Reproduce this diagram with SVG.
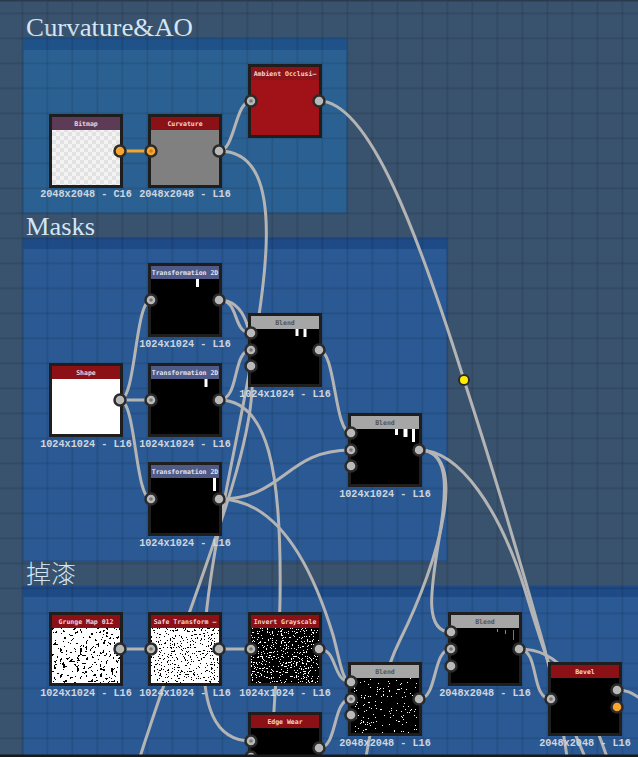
<svg xmlns="http://www.w3.org/2000/svg" width="638" height="757" viewBox="0 0 638 757">
<style>
.nb{fill:#1e1e1e}
.w{fill:none;stroke:#b4b4b4;stroke-width:3;stroke-linecap:round}
.wo{fill:none;stroke:#f4a62a;stroke-width:3}
.p{fill:#b9b9b9;stroke:#2b2b2b;stroke-width:2.5}
.po{fill:#f7a632;stroke:#2b2b2b;stroke-width:2.5}
.dot{fill:#777}
.doto{fill:#c9801a}
.lbl{font-family:"Liberation Mono",monospace;font-size:10.2px;font-weight:bold;fill:#cfd6de;text-anchor:middle}
.nt{font-family:"DejaVu Sans Mono",monospace;font-size:6.5px;font-weight:bold;text-anchor:middle;fill:#f0d6d6}
.ntb{fill:#555}
.ntt{fill:#e4e4f2}
.ft{font-family:"Liberation Serif",serif;font-size:26px;fill:#d2e6f7}
.rh{fill:#8b1116}
.bh{fill:#a6a6a6}
.th{fill:#4f5a87}
.blk{fill:#000}
.bar{fill:#fff}
</style>
<defs>
<pattern id="grid" patternUnits="userSpaceOnUse" x="21.5" y="12.5" width="25" height="25">
<rect x="0" y="0" width="25" height="1.5" fill="#000" fill-opacity="0.12"/>
<rect x="0" y="0" width="1.5" height="25" fill="#000" fill-opacity="0.12"/>
</pattern>
<pattern id="checker" patternUnits="userSpaceOnUse" x="0" y="0" width="8" height="8">
<rect width="8" height="8" fill="#f3f3f3"/>
<rect width="4" height="4" fill="#e2e2e2"/>
<rect x="4" y="4" width="4" height="4" fill="#e2e2e2"/>
</pattern>
<filter id="nzGrunge" x="0" y="0" width="1" height="1" color-interpolation-filters="sRGB">
<feTurbulence type="fractalNoise" baseFrequency="0.35" numOctaves="3" seed="4"/>
<feColorMatrix type="matrix" values="1 0 0 0 0 1 0 0 0 0 1 0 0 0 0 0 0 0 0 1"/>
<feComponentTransfer>
<feFuncR type="discrete" tableValues="0 0 0 0 0 0 0 1 1 1 1 1 1 1 1 1 1 1 1 1"/>
<feFuncG type="discrete" tableValues="0 0 0 0 0 0 0 1 1 1 1 1 1 1 1 1 1 1 1 1"/>
<feFuncB type="discrete" tableValues="0 0 0 0 0 0 0 1 1 1 1 1 1 1 1 1 1 1 1 1"/>
</feComponentTransfer>
</filter>
<filter id="nzSafe" x="0" y="0" width="1" height="1" color-interpolation-filters="sRGB">
<feTurbulence type="fractalNoise" baseFrequency="0.7" numOctaves="2" seed="11"/>
<feColorMatrix type="matrix" values="1 0 0 0 0 1 0 0 0 0 1 0 0 0 0 0 0 0 0 1"/>
<feComponentTransfer>
<feFuncR type="discrete" tableValues="0 0 0 0 0 0 0 1 1 1 1 1 1 1 1 1 1 1 1 1"/>
<feFuncG type="discrete" tableValues="0 0 0 0 0 0 0 1 1 1 1 1 1 1 1 1 1 1 1 1"/>
<feFuncB type="discrete" tableValues="0 0 0 0 0 0 0 1 1 1 1 1 1 1 1 1 1 1 1 1"/>
</feComponentTransfer>
</filter>
<filter id="nzInv" x="0" y="0" width="1" height="1" color-interpolation-filters="sRGB">
<feTurbulence type="fractalNoise" baseFrequency="0.8" numOctaves="2" seed="23"/>
<feColorMatrix type="matrix" values="1 0 0 0 0 1 0 0 0 0 1 0 0 0 0 0 0 0 0 1"/>
<feComponentTransfer>
<feFuncR type="discrete" tableValues="0 0 0 0 0 0 0 0 0 0 0 0 0 1 1 1 1 1 1 1"/>
<feFuncG type="discrete" tableValues="0 0 0 0 0 0 0 0 0 0 0 0 0 1 1 1 1 1 1 1"/>
<feFuncB type="discrete" tableValues="0 0 0 0 0 0 0 0 0 0 0 0 0 1 1 1 1 1 1 1"/>
</feComponentTransfer>
</filter>
<filter id="nzBl" x="0" y="0" width="1" height="1" color-interpolation-filters="sRGB">
<feTurbulence type="fractalNoise" baseFrequency="0.85" numOctaves="2" seed="31"/>
<feColorMatrix type="matrix" values="1 0 0 0 0 1 0 0 0 0 1 0 0 0 0 0 0 0 0 1"/>
<feComponentTransfer>
<feFuncR type="discrete" tableValues="0 0 0 0 0 0 0 0 0 0 0 0 0 0 1 1 1 1 1 1"/>
<feFuncG type="discrete" tableValues="0 0 0 0 0 0 0 0 0 0 0 0 0 0 1 1 1 1 1 1"/>
<feFuncB type="discrete" tableValues="0 0 0 0 0 0 0 0 0 0 0 0 0 0 1 1 1 1 1 1"/>
</feComponentTransfer>
</filter>
</defs>

<rect x="0" y="0" width="638" height="757" fill="#39526d"/>

<g id="frame-curvature-ao">
<rect x="23" y="38" width="324" height="175" fill="#2b6192" stroke="#24507e" stroke-width="1"/>
<rect x="23" y="38" width="324" height="12" fill="#1f5289"/>
<text class="ft" x="26" y="36" textLength="167" lengthAdjust="spacingAndGlyphs">Curvature&amp;AO</text>
</g>
<g id="frame-masks">
<rect x="23" y="238" width="424" height="323" fill="#2a5994" stroke="#234c7e" stroke-width="1"/>
<rect x="23" y="238" width="424" height="11" fill="#1e4a86"/>
<text class="ft" x="26" y="235" textLength="69" lengthAdjust="spacingAndGlyphs">Masks</text>
</g>
<g id="frame-wear">
<rect x="23" y="586" width="620" height="175" fill="#2a5994" stroke="#234c7e" stroke-width="1"/>
<rect x="23" y="586" width="620" height="11" fill="#1e4a86"/>
<text x="26" y="583" font-family="'Noto Sans CJK SC','Noto Sans CJK JP',sans-serif" font-size="25" font-weight="300" fill="#d2e6f7">掉漆</text>
</g>

<rect x="0" y="0" width="638" height="757" fill="url(#grid)"/>

<g id="connectors">
<path class="wo" d="M120,151 L151,151"/>
<path class="w" d="M219,151 C235,151 235,101 251,101"/>
<path class="w" d="M219,151 C369,151 101,741 251,741"/>
<path class="w" d="M319,101 C370,101 420,240 464,380 C490,460 520,560 545,650 C555,690 562,720 567,757"/>
<path class="w" d="M219,300 C245,300 255,330 252,390 C248,470 190,600 140,757"/>
<path class="w" d="M120,400 C136,400 135,300 151,300"/>
<path class="w" d="M120,400 L151,400"/>
<path class="w" d="M120,400 C136,400 135,499 151,499"/>
<path class="w" d="M219,300 C240,300 232,333 251,333"/>
<path class="w" d="M219,400 C240,400 232,350 251,350"/>
<path class="w" d="M219,400 C268,400 282,470 280,600 C279,660 273,700 272,757"/>
<path class="w" d="M319,350 C336,350 334,433 351,433"/>
<path class="w" d="M219,499 C285,499 285,450 351,450"/>
<path class="w" d="M219,499 C275,499 310,560 333,635 C340,660 342,682 351,682"/>
<path class="w" d="M120,649 L151,649"/>
<path class="w" d="M219,649 L251,649"/>
<path class="w" d="M319,649 C338,649 332,682 351,682"/>
<path class="w" d="M319,748 C338,748 332,699 351,699"/>
<path class="w" d="M419,699 C438,699 432,649 451,649"/>
<path class="w" d="M419,450 C485,450 395,632 451,632"/>
<path class="w" d="M419,450 C470,450 440,560 400,640 C385,670 372,720 366,757"/>
<path class="w" d="M419,450 C460,450 500,510 525,590 C540,640 560,700 585,757"/>
<path class="w" d="M519,649 C540,649 530,699 551,699"/>
<path class="w" d="M519,649 C560,649 580,680 607,757"/>
<path class="w" d="M617,690 C630,690 634,695 640,698"/>
<circle cx="464" cy="380" r="5" fill="#ffee00" stroke="#2b2b2b" stroke-width="2"/>
</g>

<g id="node-bitmap">
<rect class="nb" x="49" y="114" width="74" height="74"/>
<rect x="52" y="117" width="68" height="13" fill="#5d3a56"/>
<rect x="52" y="130" width="68" height="55" fill="url(#checker)"/>
<text class="nt" x="86" y="126" fill="#ead2e2">Bitmap</text>
<circle class="po" cx="120" cy="151" r="5.5"/>
<text class="lbl" x="86" y="197">2048x2048 - C16</text>
</g>
<g id="node-curvature">
<rect class="nb" x="148" y="114" width="74" height="74"/>
<rect class="rh" x="151" y="117" width="68" height="13"/>
<rect x="151" y="130" width="68" height="55" fill="#808080"/>
<text class="nt" x="185" y="126">Curvature</text>
<circle class="po" cx="151" cy="151" r="5.5"/><circle class="doto" cx="151" cy="151" r="1.8"/>
<circle class="p" cx="219" cy="151" r="5.5"/>
<text class="lbl" x="185" y="197">2048x2048 - L16</text>
</g>
<g id="node-ambient-occlusion">
<rect class="nb" x="248" y="64" width="74" height="74"/>
<rect x="251" y="67" width="68" height="68" fill="#a01218"/>
<rect x="251" y="67" width="68" height="13" fill="#8c1318"/>
<text class="nt" x="285" y="76">Ambient Occlusi—</text>
<circle class="p" cx="251" cy="101" r="5.5"/><circle class="dot" cx="251" cy="101" r="1.8"/>
<circle class="p" cx="319" cy="101" r="5.5"/>
</g>

<g id="node-shape">
<rect class="nb" x="49" y="363" width="74" height="74"/>
<rect class="rh" x="52" y="366" width="68" height="13"/>
<rect x="52" y="379" width="68" height="55" fill="#fff"/>
<text class="nt" x="86" y="375">Shape</text>
<circle class="p" cx="120" cy="400" r="5.5"/>
<text class="lbl" x="86" y="447">1024x1024 - L16</text>
</g>
<g id="node-transform-1">
<rect class="nb" x="148" y="263" width="74" height="74"/>
<rect class="th" x="151" y="266" width="68" height="13"/>
<rect class="blk" x="151" y="279" width="68" height="55"/>
<rect class="bar" x="196" y="279" width="3" height="8"/>
<text class="nt ntt" x="185" y="275">Transformation 2D</text>
<circle class="p" cx="151" cy="300" r="5.5"/><circle class="dot" cx="151" cy="300" r="1.8"/>
<circle class="p" cx="219" cy="300" r="5.5"/>
<text class="lbl" x="185" y="347">1024x1024 - L16</text>
</g>
<g id="node-transform-2">
<rect class="nb" x="148" y="363" width="74" height="74"/>
<rect class="th" x="151" y="366" width="68" height="13"/>
<rect class="blk" x="151" y="379" width="68" height="55"/>
<rect class="bar" x="204.5" y="379" width="3" height="8"/>
<text class="nt ntt" x="185" y="375">Transformation 2D</text>
<circle class="p" cx="151" cy="400" r="5.5"/><circle class="dot" cx="151" cy="400" r="1.8"/>
<circle class="p" cx="219" cy="400" r="5.5"/>
<text class="lbl" x="185" y="447">1024x1024 - L16</text>
</g>
<g id="node-transform-3">
<rect class="nb" x="148" y="462" width="74" height="74"/>
<rect class="th" x="151" y="465" width="68" height="13"/>
<rect class="blk" x="151" y="478" width="68" height="55"/>
<rect class="bar" x="213" y="478" width="3" height="13"/>
<text class="nt ntt" x="185" y="474">Transformation 2D</text>
<circle class="p" cx="151" cy="499" r="5.5"/><circle class="dot" cx="151" cy="499" r="1.8"/>
<circle class="p" cx="219" cy="499" r="5.5"/>
<text class="lbl" x="185" y="546">1024x1024 - L16</text>
</g>
<g id="node-blend-1">
<rect class="nb" x="248" y="313" width="74" height="74"/>
<rect class="bh" x="251" y="316" width="68" height="13"/>
<rect class="blk" x="251" y="329" width="68" height="55"/>
<rect class="bar" x="295.5" y="329" width="3" height="7"/>
<rect class="bar" x="303.5" y="329" width="3" height="8"/>
<text class="nt ntb" x="285" y="325">Blend</text>
<circle class="p" cx="251" cy="333" r="5.5"/>
<circle class="p" cx="251" cy="350" r="5.5"/><circle class="dot" cx="251" cy="350" r="1.8"/>
<circle class="p" cx="251" cy="366" r="5.5"/>
<circle class="p" cx="319" cy="350" r="5.5"/>
<text class="lbl" x="285" y="397">1024x1024 - L16</text>
</g>
<g id="node-blend-2">
<rect class="nb" x="348" y="413" width="74" height="74"/>
<rect class="bh" x="351" y="416" width="68" height="13"/>
<rect class="blk" x="351" y="429" width="68" height="55"/>
<rect class="bar" x="395" y="429" width="3" height="6"/>
<rect class="bar" x="403.5" y="429" width="4" height="8"/>
<rect class="bar" x="412" y="429" width="3" height="13"/>
<text class="nt ntb" x="385" y="425">Blend</text>
<circle class="p" cx="351" cy="433" r="5.5"/>
<circle class="p" cx="351" cy="450" r="5.5"/><circle class="dot" cx="351" cy="450" r="1.8"/>
<circle class="p" cx="351" cy="466" r="5.5"/>
<circle class="p" cx="419" cy="450" r="5.5"/>
<text class="lbl" x="385" y="497">1024x1024 - L16</text>
</g>

<g id="node-grunge-map">
<rect class="nb" x="49" y="612" width="74" height="74"/>
<rect class="rh" x="52" y="615" width="68" height="13"/>
<rect x="52" y="628" width="68" height="55" fill="#fff" filter="url(#nzGrunge)"/>
<text class="nt" x="86" y="624">Grunge Map 012</text>
<circle class="p" cx="120" cy="649" r="5.5"/>
<text class="lbl" x="86" y="696">1024x1024 - L16</text>
</g>
<g id="node-safe-transform">
<rect class="nb" x="148" y="612" width="74" height="74"/>
<rect class="rh" x="151" y="615" width="68" height="13"/>
<rect x="151" y="628" width="68" height="55" fill="#fff" filter="url(#nzSafe)"/>
<text class="nt" x="185" y="624">Safe Transform —</text>
<circle class="p" cx="151" cy="649" r="5.5"/><circle class="dot" cx="151" cy="649" r="1.8"/>
<circle class="p" cx="219" cy="649" r="5.5"/>
<text class="lbl" x="185" y="696">1024x1024 - L16</text>
</g>
<g id="node-invert">
<rect class="nb" x="248" y="612" width="74" height="74"/>
<rect class="rh" x="251" y="615" width="68" height="13"/>
<rect x="251" y="628" width="68" height="55" fill="#000" filter="url(#nzInv)"/>
<text class="nt" x="285" y="624">Invert Grayscale</text>
<circle class="p" cx="251" cy="649" r="5.5"/><circle class="dot" cx="251" cy="649" r="1.8"/>
<circle class="p" cx="319" cy="649" r="5.5"/>
<text class="lbl" x="285" y="696">1024x1024 - L16</text>
</g>
<g id="node-edge-wear">
<rect class="nb" x="248" y="712" width="74" height="74"/>
<rect class="rh" x="251" y="715" width="68" height="13"/>
<rect class="blk" x="251" y="728" width="68" height="55"/>
<text class="nt" x="285" y="724">Edge Wear</text>
<circle class="p" cx="251" cy="741" r="5.5"/><circle class="dot" cx="251" cy="741" r="1.8"/>
<circle class="p" cx="251" cy="757" r="5.5"/>
<circle class="p" cx="319" cy="748" r="5.5"/>
</g>
<g id="node-blend-3">
<rect class="nb" x="348" y="662" width="74" height="74"/>
<rect class="bh" x="351" y="665" width="68" height="13"/>
<rect x="351" y="678" width="68" height="55" fill="#000" filter="url(#nzBl)"/>
<text class="nt ntb" x="385" y="674">Blend</text>
<circle class="p" cx="351" cy="682" r="5.5"/>
<circle class="p" cx="351" cy="699" r="5.5"/><circle class="dot" cx="351" cy="699" r="1.8"/>
<circle class="p" cx="351" cy="715" r="5.5"/>
<circle class="p" cx="419" cy="699" r="5.5"/>
<text class="lbl" x="385" y="746">2048x2048 - L16</text>
</g>
<g id="node-blend-4">
<rect class="nb" x="448" y="612" width="74" height="74"/>
<rect class="bh" x="451" y="615" width="68" height="13"/>
<rect class="blk" x="451" y="628" width="68" height="55"/>
<rect x="497" y="629" width="1" height="3" fill="#888"/>
<rect x="505" y="630" width="1" height="4" fill="#888"/>
<rect x="513" y="630" width="1" height="10" fill="#777"/>
<text class="nt ntb" x="485" y="624">Blend</text>
<circle class="p" cx="451" cy="632" r="5.5"/>
<circle class="p" cx="451" cy="649" r="5.5"/><circle class="dot" cx="451" cy="649" r="1.8"/>
<circle class="p" cx="451" cy="666" r="5.5"/>
<circle class="p" cx="519" cy="649" r="5.5"/>
<text class="lbl" x="485" y="696">2048x2048 - L16</text>
</g>
<g id="node-bevel">
<rect class="nb" x="548" y="662" width="74" height="74"/>
<rect class="rh" x="551" y="665" width="68" height="13"/>
<rect class="blk" x="551" y="678" width="68" height="55"/>
<text class="nt" x="585" y="674">Bevel</text>
<circle class="p" cx="551" cy="699" r="5.5"/><circle class="dot" cx="551" cy="699" r="1.8"/>
<circle class="p" cx="617" cy="690" r="5.5"/>
<circle class="po" cx="617" cy="707" r="5.5"/>
<text class="lbl" x="585" y="746">2048x2048 - L16</text>
</g>

<rect x="0" y="0" width="638" height="1.5" fill="#2a3b4d"/>
<rect x="0" y="754.5" width="638" height="2.5" fill="#1a1a1a"/>
</svg>
